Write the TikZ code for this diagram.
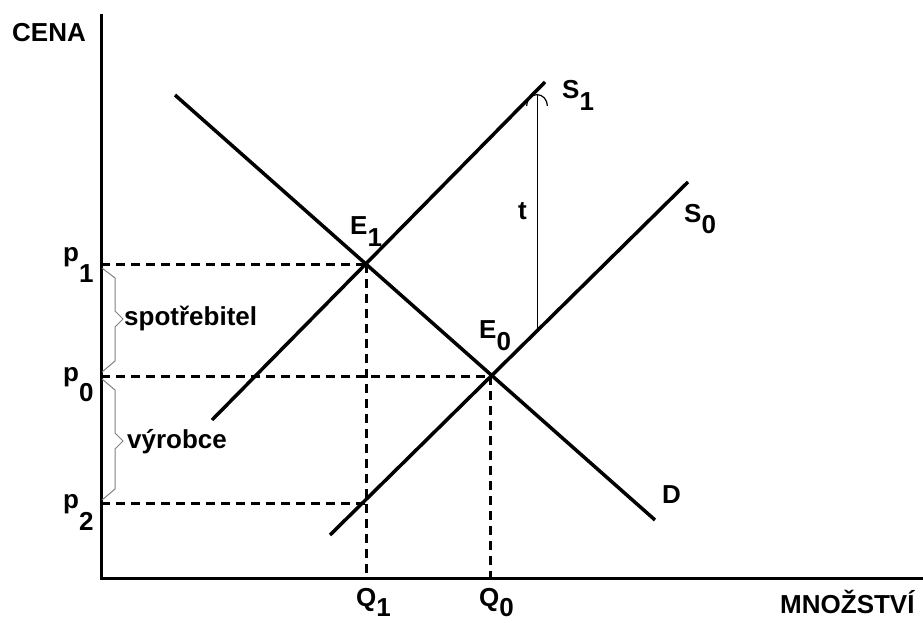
\documentclass[tikz,border=0pt]{standalone}
\usepackage{fontspec}
\setmainfont{Liberation Sans}
\usetikzlibrary{arrows.meta}
\newcommand{\lowsub}[3]{#1\raisebox{-#3}{#2}}

\begin{document}
\begin{tikzpicture}[
  x=1pt, y=-1pt,
  axis/.style={line width=3pt, black},
  curve/.style={line width=3.5pt, black},
  guide/.style={line width=3pt, dash pattern=on 9pt off 6pt},
  bracel/.style={line width=1pt, gray},
  lbl/.style={font=\fontsize{26}{26}\selectfont\bfseries, inner sep=0pt, anchor=base west},
  tax/.style={-{Arc Barb[length=12pt, width=22pt, line width=1.2pt]}, line width=1pt},
]
\useasboundingbox (0,0) rectangle (923,623);

% Osy
\coordinate (O) at (101,578);
\coordinate (ytop) at (101,14);
\coordinate (xend) at (923,578);

% Krivky
\coordinate (d1) at (175,95);
\coordinate (d2) at (655,520);
\coordinate (s1a) at (212,420);
\coordinate (s1b) at (545,82);
\coordinate (s0a) at (330,535);
\coordinate (s0b) at (688,182);

% Rovnovahy
\coordinate (E1) at (366,264);
\coordinate (E0) at (490,376);
\coordinate (B) at (366,503);
\coordinate (p1) at (101,264);
\coordinate (p0) at (101,376);
\coordinate (p2) at (101,503);
\coordinate (Q1) at (366,578);
\coordinate (Q0) at (490,578);

% Dan
\coordinate (tA) at (537,331);
\coordinate (tB) at (537,94);

% Pomocne cary
\draw[guide] (p1) -- (E1);
\draw[guide] (p0) -- (E0);
\draw[guide] (p2) -- (B);
\draw[guide] (E1) -- (Q1);
\draw[guide] (E0) -- (Q0);

\draw[curve] (d1) -- (d2);
\draw[curve] (s1a) -- (s1b);
\draw[curve] (s0a) -- (s0b);
\draw[tax] (tA) -- (tB);

\draw[axis] (ytop) -- (O) -- (xend);

% Zavorky
\draw[bracel] (102,268) -- (115,278) -- (115,311) -- (123,319) -- (115,327) -- (115,361) -- (102,372);
\draw[bracel] (102,379) -- (115,390) -- (115,433) -- (123,441) -- (115,449) -- (115,489) -- (102,500);

% Popisky
\node[lbl] (lcena) at (12,42) {CENA};
\node[lbl] (lmn) at (780,613) {MNOŽSTVÍ};
\node[lbl] (lp1) at (63,261) {\lowsub{p}{1}{21pt}};
\node[lbl] (lp0) at (63,381) {\lowsub{p}{0}{20pt}};
\node[lbl] (lp2) at (63,508) {\lowsub{p}{2}{22pt}};
\node[lbl] (lE1) at (350,234) {\lowsub{E}{1}{12pt}};
\node[lbl] (lE0) at (479,338) {\lowsub{E}{0}{12pt}};
\node[lbl] (lS1) at (562,99) {\lowsub{S}{1}{12pt}};
\node[lbl] (lS0) at (684,222) {\lowsub{S}{0}{11pt}};
\node[lbl] (lD) at (662,503) {D};
\node[lbl] (lt) at (518,219) {t};
\node[lbl] (lQ1) at (356,606) {\lowsub{Q}{1}{10pt}};
\node[lbl] (lQ0) at (479,606) {\lowsub{Q}{0}{10pt}};
\node[lbl] (lspo) at (124,325) {spotřebitel};
\node[lbl] (lvyr) at (127,448) {výrobce};

\end{tikzpicture}
\end{document}
